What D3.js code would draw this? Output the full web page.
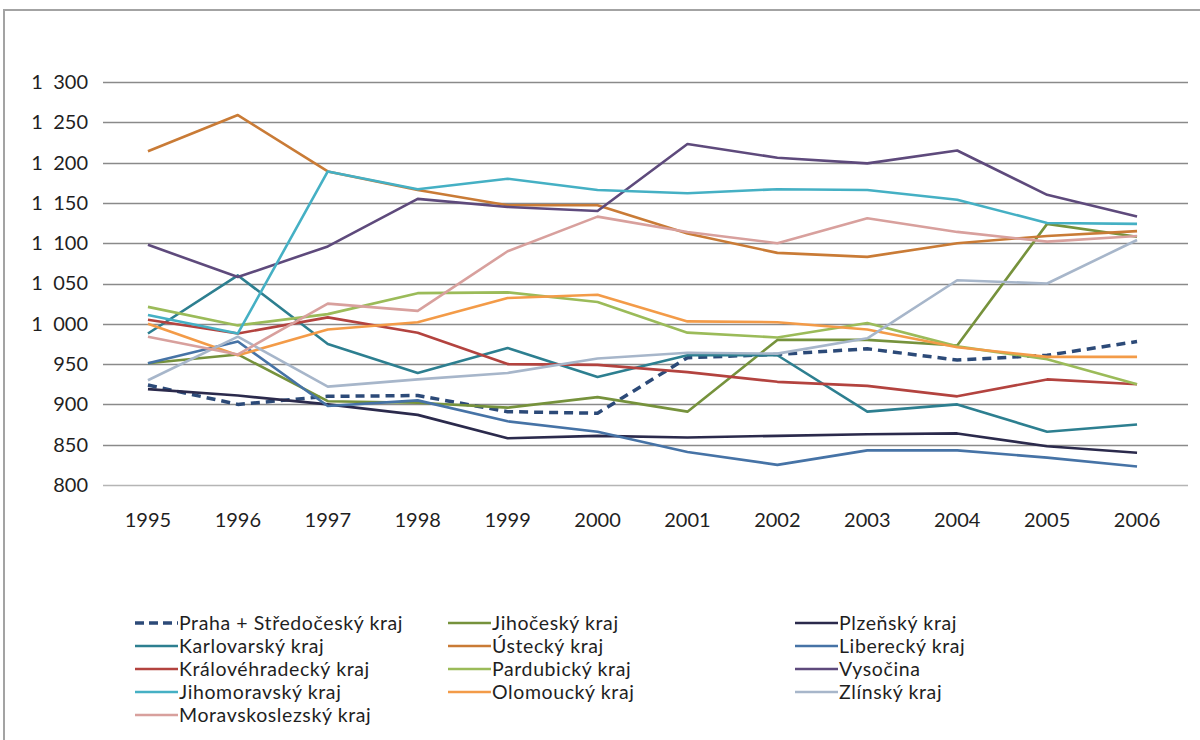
<!DOCTYPE html>
<html>
<head>
<meta charset="utf-8">
<script src="https://cdn.jsdelivr.net/npm/d3@7"></script>
<style>
  body { margin: 0; background: #fff; }
  text { font-family: Lato, "Liberation Sans", sans-serif; fill: #1f1f1f; }
</style>
</head>
<body>
<div id="canvas"></div>
<script>
"use strict"

/* data */
let years = [1995, 1996, 1997, 1998, 1999, 2000, 2001, 2002, 2003, 2004, 2005, 2006];
let yTicks = [800, 850, 900, 950, 1000, 1050, 1100, 1150, 1200, 1250, 1300];

let regions = ["Praha + Středočeský kraj", "Jihočeský kraj", "Plzeňský kraj",
    "Karlovarský kraj", "Ústecký kraj", "Liberecký kraj",
    "Královéhradecký kraj", "Pardubický kraj", "Vysočina",
    "Jihomoravský kraj", "Olomoucký kraj", "Zlínský kraj",
    "Moravskoslezský kraj"];

let praha = [924, 900, 910, 911, 891, 889, 958, 962, 969, 955, 961, 978];
let jihocesky = [951, 962, 904, 902, 896, 909, 891, 980, 980, 973, 1124, 1108];
let plzensky = [919, 911, 900, 887, 858, 861, 859, 861, 863, 864, 848, 840];
let karlovarsky = [988, 1060, 975, 939, 970, 934, 961, 961, 891, 900, 866, 875];
let ustecky = [1214, 1259, 1189, 1166, 1147, 1147, 1112, 1088, 1083, 1100, 1109, 1115];
let liberecky = [951, 978, 898, 905, 879, 866, 841, 825, 843, 843, 834, 823];
let kralovehradecky = [1005, 988, 1008, 989, 950, 949, 940, 928, 923, 910, 931, 925];
let pardubicky = [1021, 998, 1012, 1038, 1039, 1027, 989, 983, 1001, 972, 956, 925];
let vysocina = [1098, 1058, 1096, 1155, 1145, 1140, 1223, 1206, 1199, 1215, 1160, 1133];
let jihomoravsky = [1011, 988, 1189, 1167, 1180, 1166, 1162, 1167, 1166, 1154, 1125, 1124];
let olomoucky = [1000, 961, 993, 1002, 1032, 1036, 1003, 1002, 993, 971, 959, 959];
let zlinsky = [930, 984, 922, 931, 939, 957, 964, 963, 982, 1054, 1050, 1104];
let moravskoslezsky = [984, 962, 1025, 1016, 1090, 1133, 1114, 1100, 1131, 1114, 1102, 1109];

let values = [praha, jihocesky, plzensky, karlovarsky, ustecky, liberecky,
    kralovehradecky, pardubicky, vysocina, jihomoravsky, olomoucky, zlinsky,
    moravskoslezsky];

let colors = ["#2c4a78", "#76923c", "#2b2a4c", "#2d7f90", "#c97b36", "#4673a6",
    "#b3433f", "#9bbb59", "#5e4a7c", "#45b0c4", "#f39b48", "#a7b6ca", "#d8a09d"];

/* Configuration variables: drawing */
let svgWidth = 1200;
let svgHeight = 740;
let plotLeft = 103;
let plotRight = 1188;
let plotTop = 82;
let plotBottom = 485;

let svg = d3.select("#canvas")
    .append("svg")
    .attr("width", svgWidth)
    .attr("height", svgHeight);

/* chart frame */
svg.append("rect")
    .attr("x", 4)
    .attr("y", 10)
    .attr("width", 1210)
    .attr("height", 760)
    .attr("fill", "none")
    .attr("stroke", "#a3a3a3")
    .attr("stroke-width", 2);

let xScale = d3.scaleBand()
    .domain(years)
    .range([plotLeft, 1182]);

let xPos = function (year) {
    return xScale(year) + xScale.bandwidth() / 2;
};

let yScale = d3.scaleLinear()
    .domain([800, 1300])
    .range([plotBottom, plotTop]);

let czech = d3.formatLocale({ decimal: ",", thousands: " ", grouping: [3], currency: ["", ""] });

/* gridlines */
svg.append("g")
    .selectAll("line")
    .data(yTicks)
    .join("line")
    .attr("x1", plotLeft)
    .attr("x2", plotRight)
    .attr("y1", d => Math.round(yScale(d)) + 0.5)
    .attr("y2", d => Math.round(yScale(d)) + 0.5)
    .attr("stroke", d => d == 800 ? "#b5b5b5" : "#8a8a8a")
    .attr("stroke-width", 1.5);

/* y axis labels */
let yAxis = d3.axisLeft(yScale)
    .tickValues(yTicks)
    .tickSize(0)
    .tickPadding(0)
    .tickFormat(czech.format(",d"));

svg.append("g")
    .attr("transform", "translate(88,0)")
    .call(yAxis)
    .call(g => g.select(".domain").remove())
    .selectAll("text")
    .attr("font-size", 20)
    .attr("font-family", "Lato, sans-serif")
    .attr("fill", "#1f1f1f")
    .attr("xml:space", "preserve")
    .text(d => czech.format(",d")(d).replace(" ", "  "));

/* x axis labels */
let xAxis = d3.axisBottom(xScale)
    .tickSize(0)
    .tickPadding(0);

svg.append("g")
    .attr("transform", "translate(0,513)")
    .call(xAxis)
    .call(g => g.select(".domain").remove())
    .selectAll("text")
    .attr("font-size", 20)
    .attr("font-family", "Lato, sans-serif")
    .attr("fill", "#1f1f1f");

/* lines */
let line = d3.line()
    .x((d, i) => xPos(years[i]))
    .y(d => yScale(d));

let series = regions.map((name, i) => ({ name: name, values: values[i], color: colors[i] }));

svg.append("g")
    .selectAll("path")
    .data(series)
    .join("path")
    .attr("d", d => line(d.values))
    .attr("fill", "none")
    .attr("stroke", d => d.color)
    .attr("stroke-width", (d, i) => i == 0 ? 3.5 : 2.6)
    .attr("stroke-dasharray", (d, i) => i == 0 ? "9,6" : null)
    .attr("stroke-linejoin", "round");

/* legend */
let colX = [135, 448, 795];
let rowY = [623, 646, 669, 692, 715];

let legend = svg.append("g")
    .selectAll("g")
    .data(series)
    .join("g")
    .attr("transform", (d, i) => "translate(" + colX[i % 3] + "," + rowY[Math.floor(i / 3)] + ")");

legend.append("line")
    .attr("x1", 0)
    .attr("x2", 43)
    .attr("y1", 0)
    .attr("y2", 0)
    .attr("stroke", d => d.color)
    .attr("stroke-width", (d, i) => i == 0 ? 3.5 : 2.6)
    .attr("stroke-dasharray", (d, i) => i == 0 ? "9,5" : null);

legend.append("text")
    .attr("x", 44)
    .attr("y", 0)
    .attr("dy", "0.35em")
    .attr("font-size", 19.5)
    .attr("letter-spacing", 0.6)
    .text(d => d.name);
</script>
</body>
</html>
